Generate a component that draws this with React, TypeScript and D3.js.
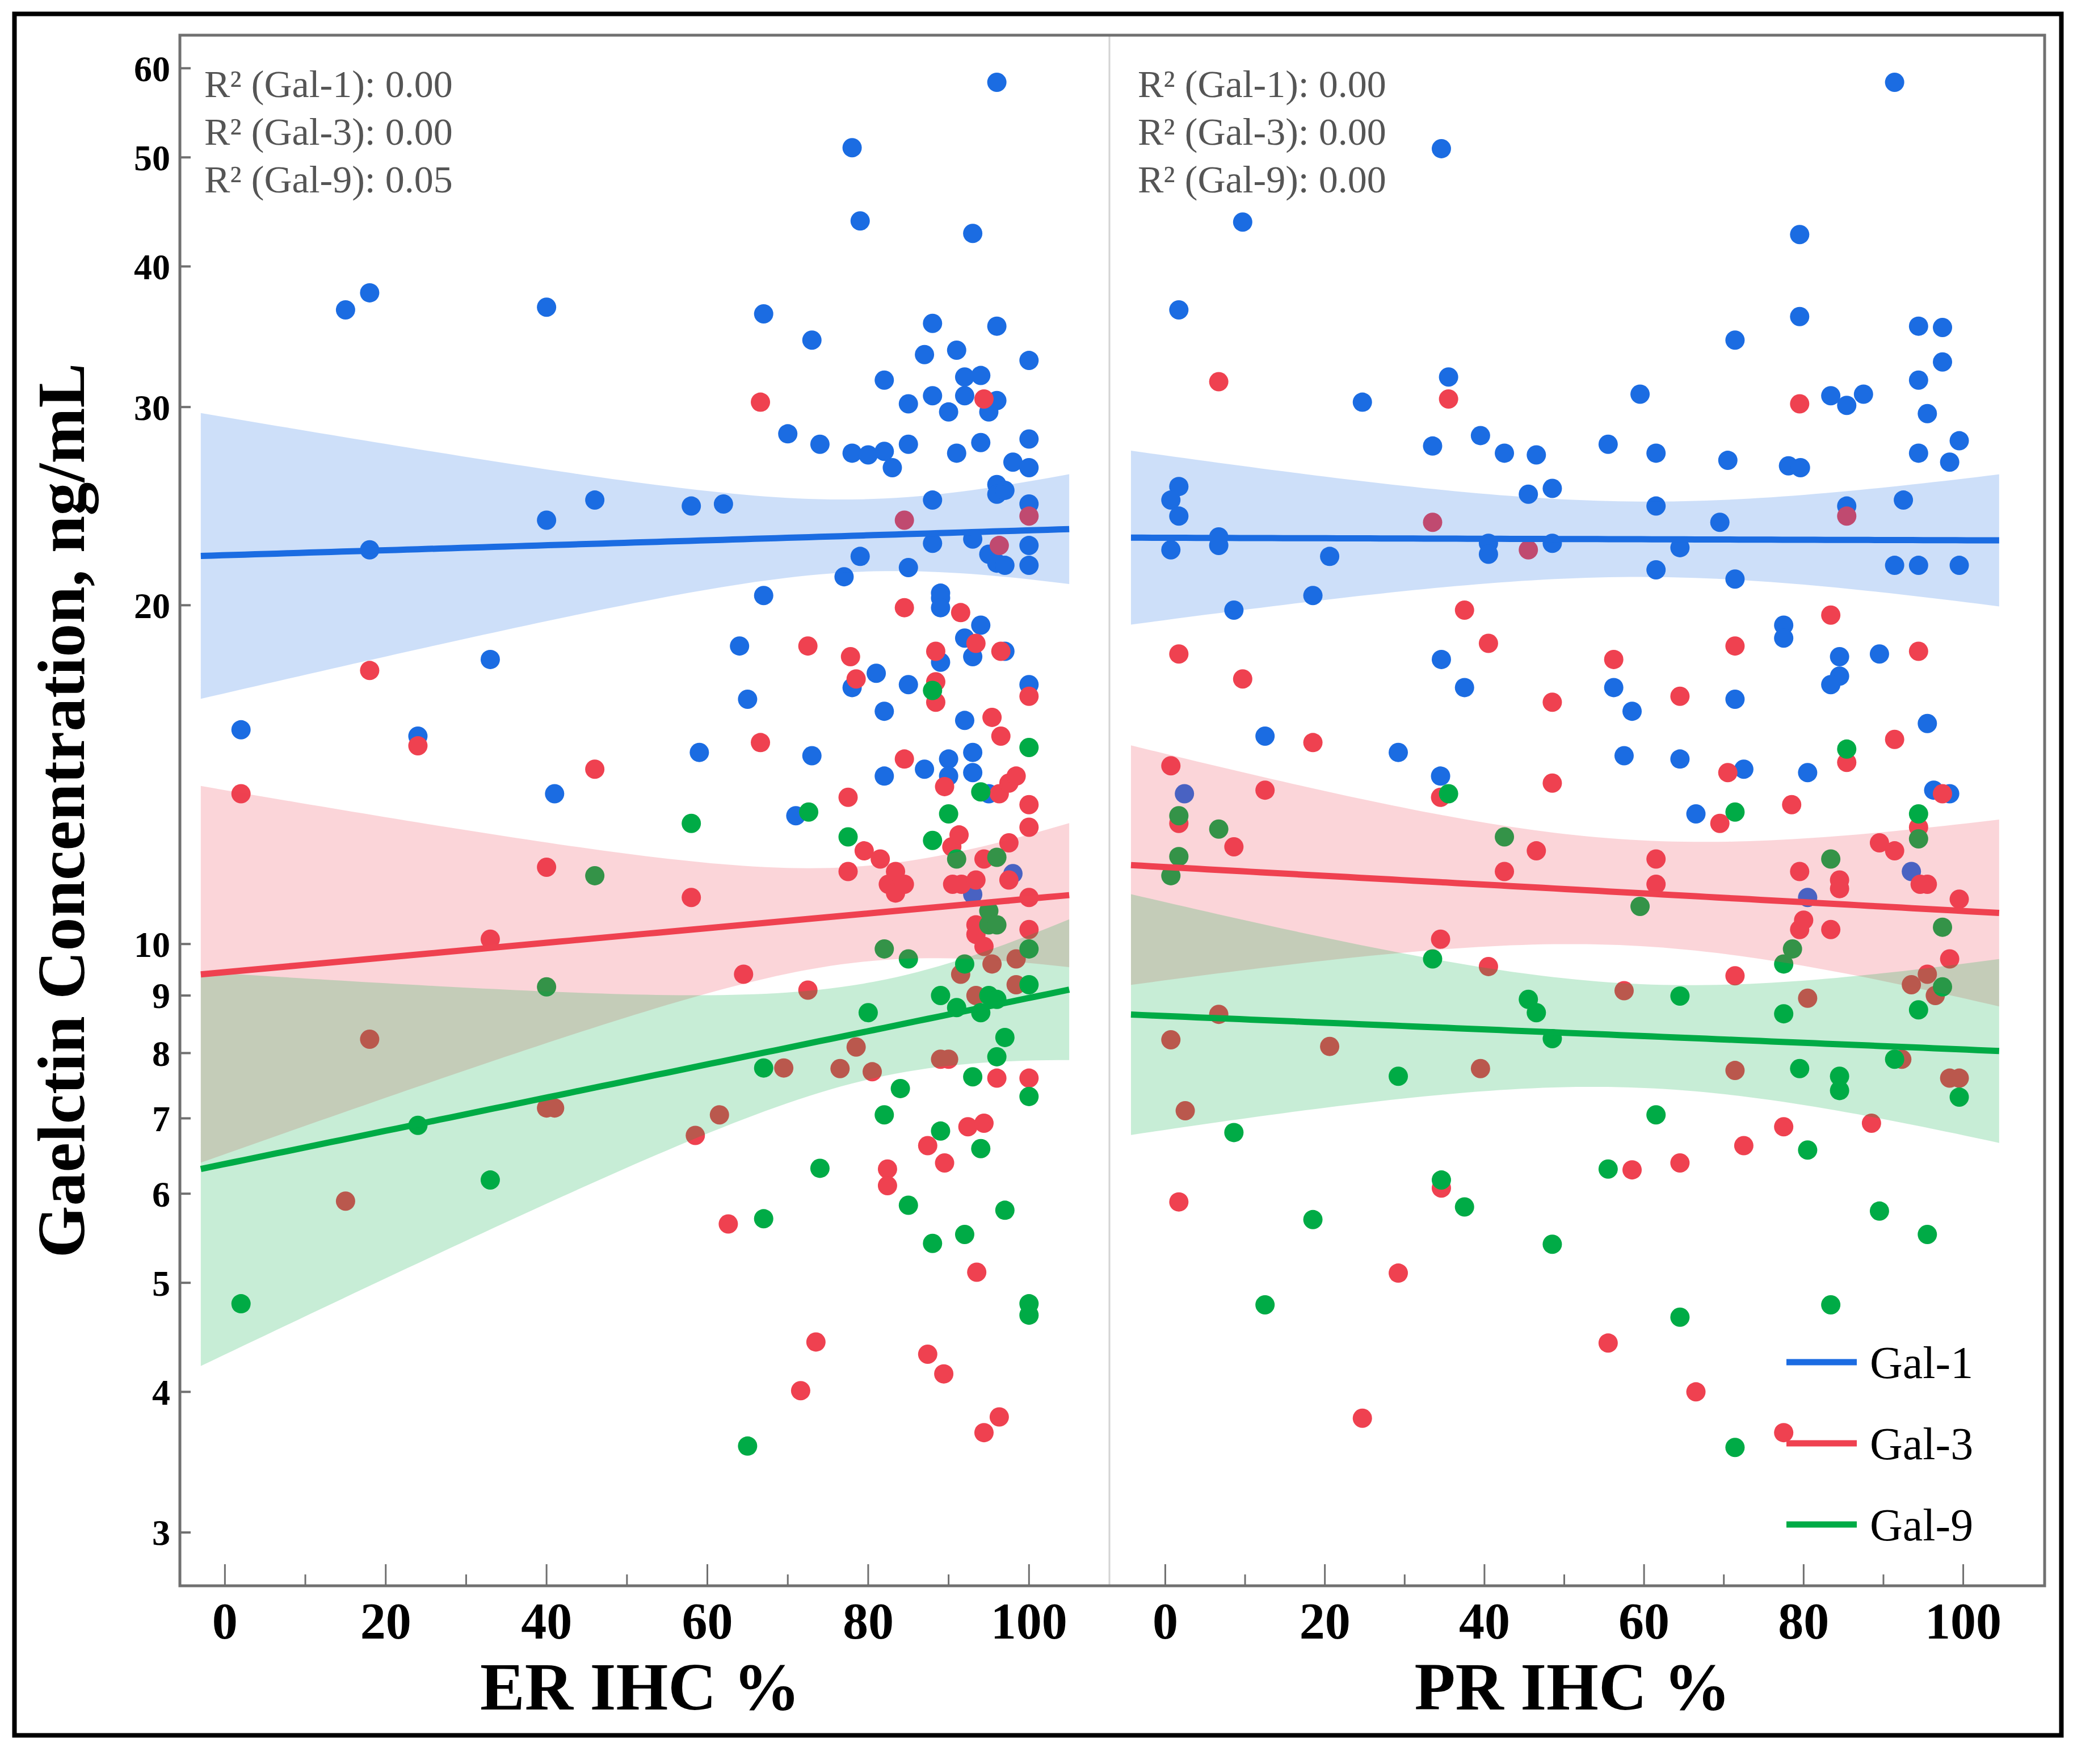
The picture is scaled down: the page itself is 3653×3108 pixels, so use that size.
import React from 'react';
import * as d3 from 'd3';

type Pt = [number, number];

// ER IHC % vs concentration (ng/mL)
const erGal1: Pt[] = [
  [2, 15.5], [15, 36.6], [18, 37.9], [18, 22.4], [24, 15.3], [33, 17.9], [40, 36.8], [40, 23.8], [41, 13.6], [46, 24.8],
  [58, 24.5], [59, 14.8], [62, 24.6], [64, 18.4], [65, 16.5], [67, 36.3], [67, 20.4], [70, 28.4], [71, 13.0], [73, 34.4],
  [73, 14.7], [74, 27.8], [77, 21.2], [78, 51], [78, 27.3], [78, 16.9], [79, 43.9], [79, 22.1], [80, 27.2], [81, 17.4],
  [82, 27.4], [82, 31.7], [82, 16.1], [82, 14.1], [83, 26.5], [85, 30.2], [85, 27.8], [85, 17.0], [85, 21.6], [87, 33.4],
  [87, 14.3], [88, 35.6], [88, 30.7], [88, 24.8], [88, 22.7], [89, 20.5], [89, 20.3], [89, 19.9], [89, 17.8], [90, 14.6],
  [90, 14.1], [90, 29.7], [91, 27.3], [91, 33.7], [92, 31.9], [92, 30.7], [92, 15.8], [92, 18.7], [93, 42.8], [93, 22.9],
  [93, 18.0], [93, 14.8], [93, 14.2], [94, 32.0], [94, 27.9], [94, 19.2], [95, 29.7], [95, 22.2], [95, 13.6], [96, 58.3],
  [96, 30.4], [96, 25.6], [96, 25.1], [96, 21.8], [96, 35.4], [97, 25.3], [97, 21.7], [97, 18.2], [98, 26.8], [100, 33.0],
  [100, 28.1], [100, 26.5], [100, 24.6], [100, 22.6], [100, 21.7], [100, 17.0], [98, 11.55], [93, 11.07]
];
const erGal3: Pt[] = [
  [2, 13.6], [15, 5.91], [18, 17.5], [18, 8.23], [24, 15.0], [33, 10.1], [40, 11.7], [40, 7.15], [41, 7.15], [46, 14.3],
  [58, 11.0], [58.5, 6.76], [61.5, 7.05], [62.6, 5.64], [64.5, 9.4], [66.6, 30.3], [66.6, 15.1], [69.5, 7.76], [71.6, 4.01], [72.5, 18.4],
  [72.5, 9.1], [73.5, 4.43], [76.5, 7.75], [77.5, 13.5], [77.5, 11.6], [77.8, 18.0], [78.5, 17.2], [78.5, 8.1], [79.5, 12.1], [80.5, 7.7],
  [81.5, 11.9], [82.4, 6.31], [82.4, 6.1], [82.5, 11.3], [83.4, 11.6], [83.4, 11.1], [84.5, 23.8], [84.5, 19.9], [84.5, 14.6], [84.5, 11.3],
  [87.4, 6.62], [87.4, 4.32], [88.4, 18.2], [88.4, 17.1], [88.4, 16.4], [89, 7.9], [89.4, 4.15], [89.5, 13.8], [89.5, 6.39], [90, 7.9],
  [90.4, 12.2], [90.5, 11.3], [91.3, 12.5], [91.5, 19.7], [91.6, 11.3], [91.5, 9.4], [92.4, 6.88], [93.4, 18.5], [93.4, 11.4], [93.4, 10.4],
  [93.4, 10.2], [93.4, 9.0], [93.5, 5.11], [94.4, 30.5], [94.4, 11.9], [94.4, 9.95], [94.4, 6.93], [94.4, 3.68], [95.4, 15.9], [95.4, 9.6],
  [96, 7.6], [96.3, 22.6], [96.3, 13.6], [96.3, 3.8], [96.5, 18.2], [96.5, 15.3], [97.5, 13.9], [97.5, 12.3], [97.5, 11.4], [98.4, 14.1],
  [98.4, 9.7], [98.4, 9.2], [100, 24.0], [100, 16.6], [100, 13.3], [100, 12.7], [100, 11.0], [100, 10.3], [100, 7.6]
];
const erGal9: Pt[] = [
  [2, 4.79], [24, 6.9], [33, 6.17], [40, 9.16], [46, 11.5], [58, 12.8], [65, 3.58], [67, 7.76], [67, 5.7], [72.6, 13.1],
  [74, 6.32], [77.5, 12.45], [80, 8.69], [82, 9.9], [82, 7.05], [84, 7.44], [85, 9.7], [85, 5.86], [88, 16.8], [88, 12.36],
  [88, 5.42], [89, 9.0], [89, 6.82], [90, 13.05], [91, 11.9], [91, 8.78], [92, 9.6], [92, 5.52], [93, 7.62], [94, 13.65],
  [94, 8.69], [94, 6.58], [95, 10.7], [95, 10.4], [95, 9.0], [96, 11.94], [96, 10.4], [96, 8.93], [96, 7.94], [97, 8.26],
  [97, 5.8], [100, 14.95], [100, 9.9], [100, 9.2], [100, 7.32], [100, 4.79], [100, 4.68]
];

// PR IHC % vs concentration (ng/mL)
const prGal1: Pt[] = [
  [91.4, 58.3], [34.6, 50.9], [9.7, 43.8], [79.5, 42.7], [1.7, 36.6], [79.5, 36.1], [94.4, 35.4], [97.4, 35.3], [71.4, 34.4], [97.4, 32.9],
  [35.5, 31.9], [94.4, 31.7], [24.7, 30.3], [59.5, 30.8], [83.4, 30.7], [85.4, 30.1], [87.5, 30.8], [95.5, 29.6], [33.5, 27.7], [39.5, 28.3],
  [42.5, 27.3], [46.5, 27.2], [55.5, 27.8], [61.5, 27.3], [70.5, 26.9], [78.1, 26.6], [79.6, 26.5], [94.4, 27.3], [99.5, 28.0], [98.3, 26.8],
  [1.7, 25.5], [0.7, 24.8], [1.7, 24.0], [45.5, 25.1], [48.5, 25.4], [61.5, 24.5], [69.5, 23.7], [85.4, 24.5], [92.5, 24.8], [6.7, 23.0],
  [6.7, 22.6], [0.7, 22.4], [40.5, 22.7], [40.5, 22.2], [48.5, 22.7], [64.5, 22.5], [20.6, 22.1], [61.5, 21.5], [71.4, 21.1], [91.4, 21.7],
  [94.4, 21.7], [99.5, 21.7], [18.5, 20.4], [8.6, 19.8], [77.5, 19.2], [77.5, 18.7], [34.6, 17.9], [37.5, 16.9], [84.5, 18.0], [89.5, 18.1],
  [84.5, 17.3], [83.4, 17.0], [56.2, 16.9], [58.5, 16.1], [71.4, 16.5], [95.5, 15.7], [12.5, 15.3], [29.2, 14.8], [57.5, 14.7], [64.5, 14.6],
  [72.5, 14.3], [80.5, 14.2], [34.5, 14.1], [96.3, 13.7], [98.3, 13.6], [2.4, 13.6], [66.5, 13.05], [93.5, 11.6], [80.5, 11.0]
];
const prGal3: Pt[] = [
  [6.7, 31.6], [35.5, 30.5], [79.5, 30.2], [85.4, 24.0], [33.5, 23.7], [45.5, 22.4], [37.5, 19.8], [40.5, 18.5], [83.4, 19.6], [1.7, 18.1],
  [71.4, 18.4], [94.4, 18.2], [56.2, 17.9], [9.7, 17.2], [48.5, 16.4], [64.5, 16.6], [91.4, 15.2], [18.5, 15.1], [85.4, 14.5], [0.7, 14.4],
  [70.5, 14.2], [12.5, 13.7], [8.6, 12.2], [1.7, 12.8], [34.5, 13.5], [48.5, 13.9], [78.5, 13.3], [69.5, 12.8], [97.4, 13.6], [46.5, 12.1],
  [42.5, 11.6], [61.5, 11.9], [61.5, 11.3], [79.5, 11.6], [84.5, 11.4], [84.5, 11.2], [89.5, 12.3], [91.4, 12.1], [94.4, 12.7], [94.6, 11.3],
  [95.5, 11.3], [99.5, 10.96], [83.4, 10.3], [79.5, 10.3], [80, 10.5], [98.3, 9.7], [34.5, 10.1], [40.5, 9.55], [71.4, 9.37], [93.5, 9.2],
  [95.5, 9.4], [96.5, 9.0], [57.5, 9.09], [80.5, 8.95], [6.7, 8.66], [0.7, 8.22], [20.6, 8.11], [92.3, 7.9], [39.5, 7.75], [71.4, 7.72],
  [98.3, 7.6], [99.5, 7.6], [2.5, 7.11], [77.5, 6.88], [88.5, 6.93], [72.5, 6.62], [64.5, 6.39], [58.5, 6.3], [34.6, 6.07], [1.7, 5.9],
  [29.2, 5.1], [55.5, 4.42], [66.5, 4.0], [24.7, 3.79], [77.5, 3.68]
];
const prGal9: Pt[] = [
  [85.4, 14.9], [35.5, 13.6], [71.4, 13.1], [94.4, 13.05], [1.7, 13.0], [6.7, 12.65], [42.5, 12.45], [94.4, 12.4], [83.4, 11.9], [1.7, 11.96],
  [0.7, 11.5], [59.5, 10.8], [97.4, 10.35], [78.6, 9.9], [77.5, 9.6], [33.5, 9.7], [97.4, 9.16], [64.5, 8.99], [45.5, 8.93], [46.5, 8.69],
  [77.5, 8.67], [94.4, 8.74], [48.5, 8.24], [91.4, 7.9], [79.5, 7.75], [84.5, 7.63], [84.5, 7.41], [29.2, 7.63], [99.5, 7.31], [61.5, 7.05],
  [8.6, 6.8], [80.5, 6.56], [55.5, 6.31], [34.6, 6.17], [37.5, 5.84], [18.5, 5.69], [89.5, 5.79], [95.5, 5.52], [48.5, 5.41], [12.5, 4.78],
  [83.4, 4.78], [64.5, 4.66], [71.4, 3.57]
];

const seriesNames = ['Gal-1', 'Gal-3', 'Gal-9'];
const seriesColors = ['#1b6ce2', '#ef4150', '#00ab46'];
const panelTitles = ['ER IHC %', 'PR IHC %'];
const r2Values = [['0.00', '0.00', '0.05'], ['0.00', '0.00', '0.00']];
const yTickValues = [3, 4, 5, 6, 7, 8, 9, 10, 20, 30, 40, 50, 60];
const xMajorTicks = [0, 20, 40, 60, 80, 100];
const xMinorTicks = [10, 30, 50, 70, 90];
const yTitle = 'Gaelctin Concentration, ng/mL';

const W = 3653;
const H = 3108;
const TOP = 62;
const BOTTOM = 2794;
const LEFT = 317;
const MID = 1955;
const RIGHT = 3603;
const FONT = '"Liberation Serif", "Times New Roman", serif';
const AXIS = '#707070';

function regression(pts: Pt[]) {
  const n = pts.length;
  const xs = pts.map((p) => p[0]);
  const ys = pts.map((p) => Math.log10(p[1]));
  const mx = d3.mean(xs) as number;
  const my = d3.mean(ys) as number;
  let sxx = 0;
  let sxy = 0;
  for (let i = 0; i < n; i++) {
    sxx += (xs[i] - mx) ** 2;
    sxy += (xs[i] - mx) * (ys[i] - my);
  }
  const b = sxy / sxx;
  const a = my - b * mx;
  let sse = 0;
  for (let i = 0; i < n; i++) {
    const r = ys[i] - (a + b * xs[i]);
    sse += r * r;
  }
  const s = Math.sqrt(sse / (n - 2));
  const t = 1.99;
  const [lo, hi] = d3.extent(xs) as [number, number];
  const x0 = lo - 5;
  const x1 = hi + 5;
  return d3.range(0, 81).map((i) => {
    const x = x0 + ((x1 - x0) * i) / 80;
    const yh = a + b * x;
    const se = s * Math.sqrt(1 / n + (x - mx) ** 2 / sxx);
    return { x, y: 10 ** yh, lo: 10 ** (yh - t * se), hi: 10 ** (yh + t * se) };
  });
}

const panels = [
  { title: panelTitles[0], data: [erGal1, erGal3, erGal9], r2: r2Values[0], x0: LEFT, x1: MID, domain: [-5.6, 110] },
  { title: panelTitles[1], data: [prGal1, prGal3, prGal9], r2: r2Values[1], x0: MID, x1: RIGHT, domain: [-7, 110.2] },
];

export default function App() {
  const y = d3.scaleLog().domain([2.69, 64.2]).range([BOTTOM, TOP]);

  return (
    <svg
      width={W}
      height={H}
      viewBox={`0 0 ${W} ${H}`}
      style={{ position: 'absolute', left: 0, top: 0, background: '#fff' }}
      fontFamily={FONT}
    >
      <rect x={0} y={0} width={W} height={H} fill="#fff" />
      {panels.map((p, pi) => {
        const x = d3.scaleLinear().domain(p.domain).range([p.x0, p.x1]);
        const fits = p.data.map((d) => regression(d));
        const area = d3
          .area<{ x: number; lo: number; hi: number }>()
          .x((d) => x(d.x))
          .y0((d) => y(d.lo))
          .y1((d) => y(d.hi));
        const line = d3
          .line<{ x: number; y: number }>()
          .x((d) => x(d.x))
          .y((d) => y(d.y));
        const cx = (p.x0 + p.x1) / 2 - 8;
        return (
          <g key={pi}>
            {p.data.map((series, si) => (
              <g key={si} fill={seriesColors[si]}>
                {series.map((d, k) => (
                  <circle key={k} cx={x(d[0])} cy={y(d[1])} r={17} />
                ))}
              </g>
            ))}
            {fits.map((f, si) => (
              <path key={si} d={area(f) as string} fill={seriesColors[si]} fillOpacity={0.22} stroke="none" />
            ))}
            {fits.map((f, si) => (
              <path key={si} d={line(f) as string} fill="none" stroke={seriesColors[si]} strokeWidth={11} />
            ))}
            {xMajorTicks.map((t) => (
              <line key={t} x1={x(t)} x2={x(t)} y1={BOTTOM} y2={BOTTOM - 38} stroke={AXIS} strokeWidth={3} />
            ))}
            {xMinorTicks.map((t) => (
              <line key={t} x1={x(t)} x2={x(t)} y1={BOTTOM} y2={BOTTOM - 20} stroke={AXIS} strokeWidth={3} />
            ))}
            {xMajorTicks.map((t) => (
              <text key={t} x={x(t)} y={2887} textAnchor="middle" fontSize={90} fontWeight="bold" fill="#000">
                {t}
              </text>
            ))}
            <text x={cx} y={3012} textAnchor="middle" fontSize={118} fontWeight="bold" fill="#000">
              {p.title}
            </text>
            {p.r2.map((v, si) => (
              <text key={si} x={p.x0 + (pi === 0 ? 43 : 50)} y={171 + si * 84} fontSize={68} fill="#555">
                {`R² (${seriesNames[si]}): ${v}`}
              </text>
            ))}
          </g>
        );
      })}

      {/* plot frame */}
      <line x1={MID} x2={MID} y1={TOP} y2={BOTTOM} stroke="#d4d4d4" strokeWidth={3} />
      <rect x={LEFT} y={TOP} width={RIGHT - LEFT} height={BOTTOM - TOP} fill="none" stroke={AXIS} strokeWidth={5} />

      {/* y axis ticks */}
      {yTickValues.map((t) => (
        <g key={t}>
          <line x1={LEFT} x2={LEFT + 19} y1={y(t)} y2={y(t)} stroke={AXIS} strokeWidth={4} />
          <text x={300} y={y(t)} dy="0.35em" textAnchor="end" fontSize={64} fontWeight="bold" fill="#000">
            {t}
          </text>
        </g>
      ))}

      <text
        transform={`translate(148, 1428) rotate(-90)`}
        textAnchor="middle"
        fontSize={118}
        fontWeight="bold"
        fill="#000"
      >
        {yTitle}
      </text>

      {/* legend */}
      {seriesNames.map((name, i) => (
        <g key={name} transform={`translate(0, ${2400 + i * 143})`}>
          <line x1={3148} x2={3272} y1={0} y2={0} stroke={seriesColors[i]} strokeWidth={11} />
          <text x={3295} y={0} dy="0.35em" fontSize={80} fill="#000">
            {name}
          </text>
        </g>
      ))}

      {/* outer frame */}
      <rect x={25.5} y={24.5} width={3607} height={3033} fill="none" stroke="#000" strokeWidth={8} />
    </svg>
  );
}
